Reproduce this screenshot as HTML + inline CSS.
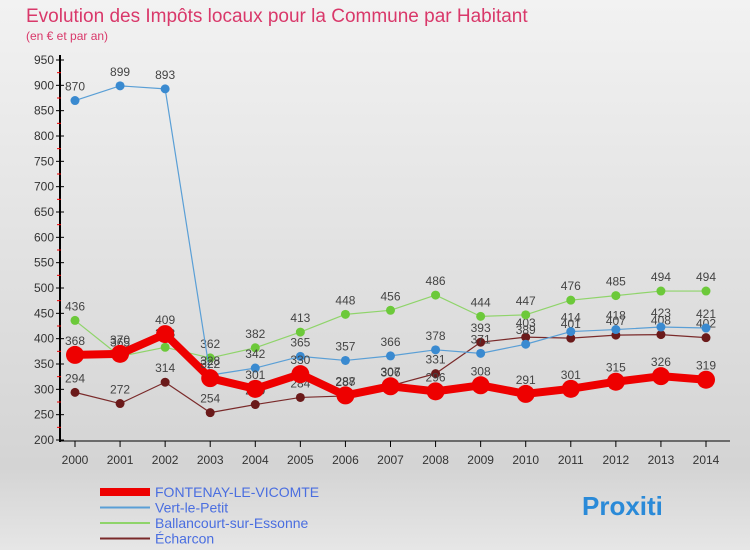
<!DOCTYPE html>
<html><head><meta charset="utf-8"><style>
body{margin:0;width:750px;height:550px;overflow:hidden;font-family:"Liberation Sans",sans-serif}
#wrap{position:relative;width:750px;height:550px;background:linear-gradient(#f2f2f2,#d4d4d4 85%,#e6e6e6);}
</style></head><body>
<div id="wrap">
<svg id="chart" width="750" height="550"></svg>
</div>
<script>
const years=["2000","2001","2002","2003","2004","2005","2006","2007","2008","2009","2010","2011","2012","2013","2014"];
const fontenay=[368,370,409,322,301,330,288,306,296,308,291,301,315,326,319];
const vert=[870,899,893,328,342,365,357,366,378,371,389,414,418,423,421];
const ballancourt=[436,365,383,362,382,413,448,456,486,444,447,476,485,494,494];
const echarcon=[294,272,314,254,270,284,287,307,331,393,403,401,407,408,402];
const yTicks=[200,250,300,350,400,450,500,550,600,650,700,750,800,850,900,950];
const NS="http://www.w3.org/2000/svg";
const svg=document.getElementById('chart');
function x(i){return 75+i*(631/14);}
function y(v){return 440-(v-200)*(380/750);}
function el(t,a,txt){const e=document.createElementNS(NS,t);for(const k in a)e.setAttribute(k,a[k]);if(txt!==undefined)e.textContent=txt;svg.appendChild(e);return e;}
let t=el('text',{x:26,y:22,'font-size':19,fill:'#d9386a'},'Evolution des Impôts locaux pour la Commune par Habitant');


t=el('text',{x:26,y:40,'font-size':12,fill:'#d9386a'},'(en € et par an)');


// axes
let a=el('line',{x1:60,y1:55,x2:60,y2:442,stroke:'#000','stroke-width':2});


a=el('line',{x1:60,y1:441,x2:730,y2:441,stroke:'#000','stroke-width':1});


yTicks.forEach(v=>{
 el('line',{x1:56,y1:y(v),x2:64,y2:y(v),stroke:'#000'});
 if(v<950){el('line',{x1:57,y1:y(v+25),x2:61,y2:y(v+25),stroke:'#e00'});}
 const l=el('text',{x:54,y:y(v)+4,'font-size':12,fill:'#333','text-anchor':'end'},v);
 
 
});
years.forEach((yr,i)=>{
 el('line',{x1:x(i),y1:441,x2:x(i),y2:447,stroke:'#000'});
 const l=el('text',{x:x(i),y:464,'font-size':12,fill:'#333','text-anchor':'middle'},yr);
 
 
});
function series(d,color,w,r,name,dot){
 const p=el('polyline',{points:d.map((v,i)=>x(i)+','+y(v)).join(' '),fill:'none',stroke:color,'stroke-width':w,'stroke-linejoin':'round'});
 
 
 d.forEach((v,i)=>{
  const c=el('circle',{cx:x(i),cy:y(v),r:r,fill:dot||color});
  
  
  const l=el('text',{x:x(i),y:y(v)-10,'font-size':12,fill:'#444','text-anchor':'middle'},v);
  
  
 });
}
series(echarcon,'#7a2a2a',1.2,4.5,'echarcon','#6b1a1a');
series(ballancourt,'#8fd46a',1.2,4.5,'ballancourt','#6cc93a');
series(vert,'#5a9fd6',1.2,4.5,'vert-le-petit','#3a8ad0');
series(fontenay,'#ee0000',8,9,'fontenay','#ee0000');
// legend
const leg=[['FONTENAY-LE-VICOMTE','#ee0000',8],['Vert-le-Petit','#5a9fd6',2],['Ballancourt-sur-Essonne','#8fd46a',2],['Écharcon','#7a2a2a',2]];
leg.forEach((L,i)=>{
 const yy=492+i*15.5;
 const ln=el('line',{x1:100,y1:yy,x2:150,y2:yy,stroke:L[1],'stroke-width':L[2]});
 
 
 const tx=el('text',{x:155,y:yy+5,'font-size':14,fill:'#4a6ee0'},L[0]);
 
 
});
const logo=el('text',{x:582,y:515,'font-size':26,'font-weight':'bold',fill:'#2a8ad8'},'Proxiti');


</script>
</body></html>
